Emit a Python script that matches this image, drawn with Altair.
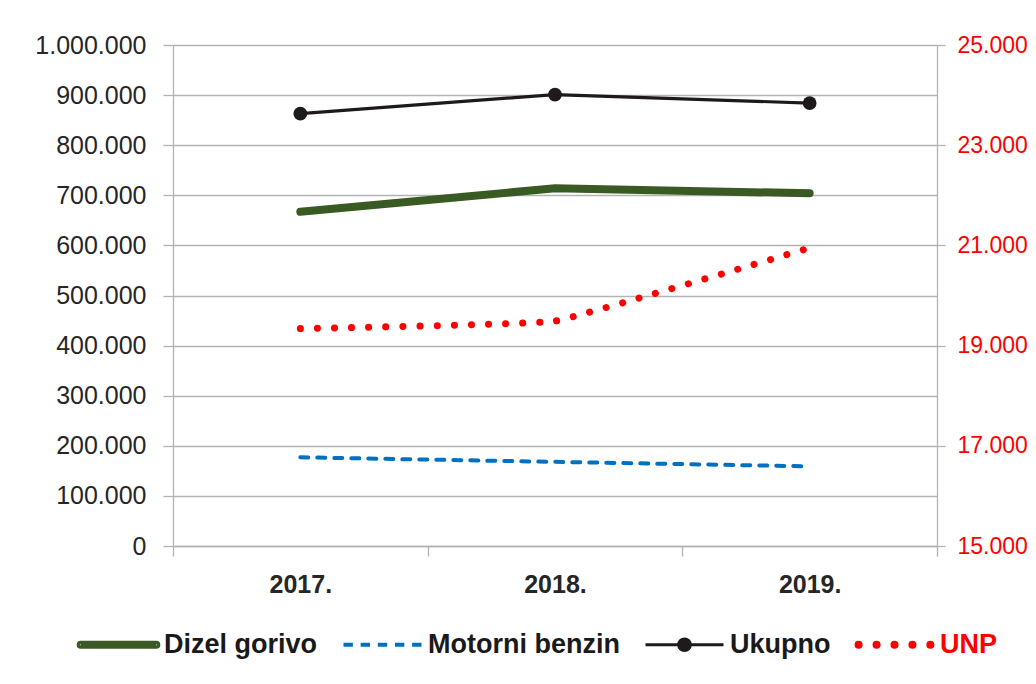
import altair as alt
import pandas as pd

years = ["2017.", "2018.", "2019."]
dizel_gorivo = [667000, 714000, 704000]
motorni_benzin = [177000, 168000, 159000]
ukupno = [863000, 901000, 884000]
unp = [19340, 19490, 20950]

series = ["Dizel gorivo", "Motorni benzin", "Ukupno", "UNP"]
colors = ["#3a5a24", "#0070c0", "#1e1a1c", "#ff0000"]
left_ticks = [0, 100000, 200000, 300000, 400000, 500000, 600000, 700000, 800000, 900000, 1000000]
right_ticks = [15000, 17000, 19000, 21000, 23000, 25000]

rows = []
for name, vals in zip(series, [dizel_gorivo, motorni_benzin, ukupno, unp]):
    for yr, v in zip(years, vals):
        rows.append({"year": yr, "series": name, "value": v})
df = pd.DataFrame(rows)

FONT = "Liberation Sans"
GRID = "#b3b3b3"
TXT = "#262626"
DOTFMT = "join(split(format(datum.value, ','), ','), '.')"


# ---- legend swatch shapes (unit square -1..1, drawn with a 3px stroke) ----
def circle(cx, r):
    return f"M{cx - r:.3f},0a{r},{r} 0 1,0 {2 * r},0a{r},{r} 0 1,0 {-2 * r},0Z"


def disk(cx, radii):
    return "".join(circle(cx, r) for r in radii)


thick_path = "".join(f"M-0.97,{o}L0.97,{o}" for o in [-0.064, -0.021, 0.021, 0.064])
thick_path += disk(-0.97, [0.064, 0.02]) + disk(0.97, [0.064, 0.02])
dash_path = ""
x0 = -1.0
for i in range(5):
    for o in [-0.015, 0.015]:
        dash_path += f"M{x0:.3f},{o}L{x0 + 0.24:.3f},{o}"
    x0 += 0.44
ukupno_path = "M-1,0L1,0" + disk(0.0, [0.15, 0.1, 0.05, 0.012])
dots_path = "".join(disk(c, [0.065, 0.015]) for c in [-0.92, -0.46, 0.0, 0.46, 0.92])

shape_expr = (
    f"datum.value === 'UNP' ? '{dots_path}' : "
    f"(datum.value === 'Ukupno' ? '{ukupno_path}' : "
    f"(datum.value === 'Motorni benzin' ? '{dash_path}' : '{thick_path}'))"
)

legend = alt.Legend(
    title=None,
    orient="none",
    legendX=-95,
    legendY=559,
    direction="horizontal",
    symbolSize=6084,
    symbolStrokeWidth=3,
    symbolType={"expr": shape_expr},
    symbolFillColor={"expr": "datum.value === 'UNP' ? '#ff0000' : (datum.value === 'Ukupno' ? '#1e1a1c' : 'transparent')"},
    labelColor={"expr": "datum.value === 'UNP' ? '#ff0000' : '#1a1a1a'"},
    labelFont=FONT,
    labelFontSize=27,
    labelFontWeight="bold",
    labelOffset=5,
    columnPadding=19,
    labelLimit=400,
)

color_enc = alt.Color("series:N", scale=alt.Scale(domain=series, range=colors), legend=legend)

x_enc = alt.X(
    "year:N",
    sort=years,
    scale=alt.Scale(type="band", paddingInner=0, paddingOuter=0),
    axis=alt.Axis(
        title=None, labelAngle=0, tickBand="extent", tickSize=10, tickColor=GRID,
        domainColor=GRID, domainWidth=1.3, tickWidth=1.3, grid=False,
        labelFont=FONT, labelFontSize=25, labelFontWeight="bold", labelColor=TXT,
        labelPadding=16,
    ),
)

y_left = alt.Y(
    "value:Q",
    scale=alt.Scale(domain=[0, 1000000], nice=False, zero=True),
    axis=alt.Axis(
        title=None, values=left_ticks, labelExpr=DOTFMT, grid=True, gridColor=GRID,
        gridWidth=1.3, tickSize=10, tickColor=GRID, tickWidth=1.3, domainColor=GRID,
        domainWidth=1.3, labelFont=FONT, labelFontSize=25, labelColor=TXT,
        labelPadding=17,
    ),
)

y_right = alt.Y(
    "value:Q",
    scale=alt.Scale(domain=[15000, 25000], nice=False, zero=False),
    axis=alt.Axis(
        title=None, orient="right", values=right_ticks, labelExpr=DOTFMT, grid=False,
        tickSize=8, tickColor=GRID, tickWidth=1.3, domainColor=GRID, domainWidth=1.3,
        labelFont=FONT, labelFontSize=23, labelColor="#ff0000", labelPadding=12,
    ),
)

base = alt.Chart(df)

dizel_layer = base.transform_filter(alt.datum.series == "Dizel gorivo").mark_line(
    strokeWidth=8, strokeCap="round"
).encode(x=x_enc, y=y_left, color=color_enc)

benzin_layer = base.transform_filter(alt.datum.series == "Motorni benzin").mark_line(
    strokeWidth=4, strokeDash=[8, 9], strokeCap="round"
).encode(x=x_enc, y=y_left, color=color_enc)

ukupno_layer = base.transform_filter(alt.datum.series == "Ukupno").mark_line(
    strokeWidth=3.2
).encode(x=x_enc, y=y_left, color=color_enc)

ukupno_pts = base.transform_filter(alt.datum.series == "Ukupno").mark_circle(
    size=190, opacity=1
).encode(x=x_enc, y=y_left, color=alt.value("#1e1a1c"))

left = alt.layer(dizel_layer, benzin_layer, ukupno_layer, ukupno_pts)

unp_layer = base.transform_filter(alt.datum.series == "UNP").mark_line(
    strokeWidth=7, strokeDash=[0.1, 17], strokeCap="round",
    interpolate="cardinal", tension=0.75,
).encode(x=x_enc, y=y_right, color=color_enc)

chart = alt.layer(left, unp_layer).resolve_scale(y="independent").properties(
    width=764,
    height=501,
    padding={"left": 165, "top": 37, "right": 91, "bottom": 130},
    autosize=alt.AutoSizeParams(type="none"),
    background="white",
).configure_view(stroke=None)

chart.save("out.html", embed_options={"renderer": "svg", "actions": False})
